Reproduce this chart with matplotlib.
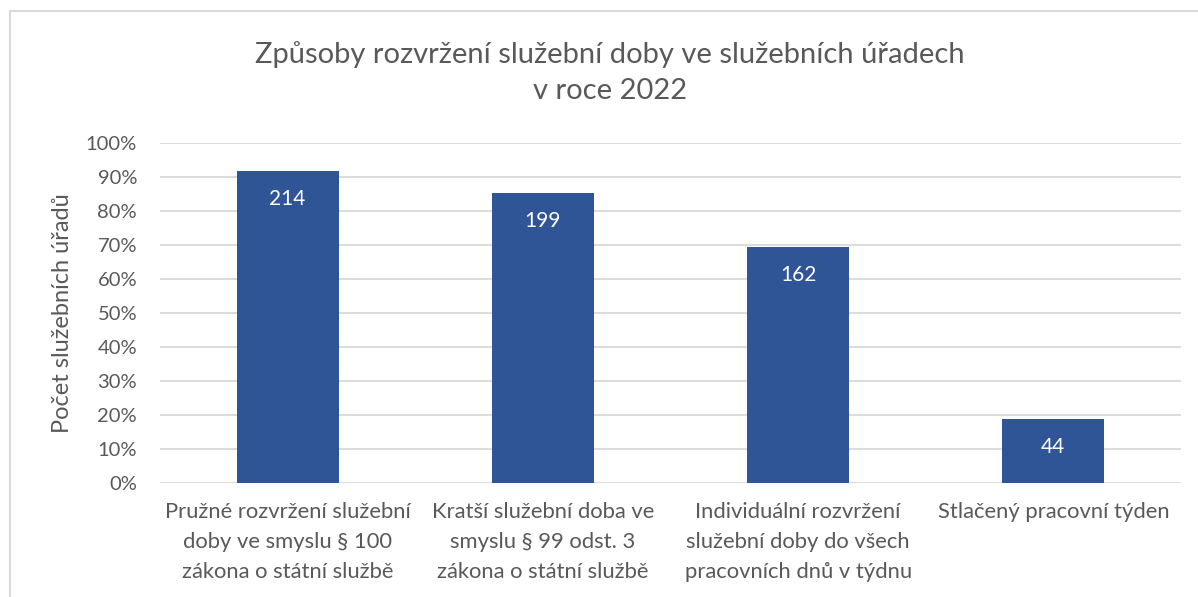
import matplotlib
matplotlib.use("Agg")
import matplotlib.pyplot as plt
from matplotlib.lines import Line2D
from matplotlib.ticker import PercentFormatter

categories = [
    "Pružné rozvržení služební\ndoby ve smyslu § 100\nzákona o státní službě",
    "Kratší služební doba ve\nsmyslu § 99 odst. 3\nzákona o státní službě",
    "Individuální rozvržení\nslužební doby do všech\npracovních dnů v týdnu",
    "Stlačený pracovní týden",
]
counts = [214, 199, 162, 44]
shares = [91.8, 85.4, 69.5, 18.9]  # percent of offices
yticks = list(range(0, 101, 10))

title = "Způsoby rozvržení služební doby ve služebních úřadech\nv roce 2022"
ylabel = "Počet služebních úřadů"

BAR = "#2F5597"
TXT = "#595959"
GRID = "#D9D9D9"
FONT = ["Lato", "DejaVu Sans"]
plt.rcParams["font.family"] = FONT

W, H = 1198, 597
fig = plt.figure(figsize=(W / 100, H / 100), dpi=100)
ax = fig.add_axes([160 / W, 1 - 483 / H, (1181 - 160) / W, (483 - 143) / H])

x = list(range(len(categories)))
bars = ax.bar(x, shares, width=0.4, color=BAR, zorder=3)
ax.set_xlim(-0.5, len(categories) - 0.5)
ax.set_ylim(0, 100)
ax.set_yticks(yticks)
ax.yaxis.set_major_formatter(PercentFormatter(decimals=0))
ax.grid(axis="y", color=GRID, linewidth=1.3, zorder=0)
for s in ax.spines.values():
    s.set_visible(False)
ax.tick_params(axis="both", length=0, colors=TXT, labelsize=14.5)
ax.tick_params(axis="y", pad=16.5)
ax.set_xticks(x)
ax.set_xticklabels(categories, linespacing=1.6, fontsize=15.8, color=TXT)
ax.tick_params(axis="x", pad=14)
for lab in ax.get_xticklabels():
    lab.set_verticalalignment("top")

for b, c in zip(bars, counts):
    ax.annotate(str(c), (b.get_x() + b.get_width() / 2, b.get_height()),
                xytext=(0, -28), textcoords="offset pixels",
                ha="center", va="center", color="white", fontsize=15)

ax.set_ylabel(ylabel, fontsize=17, color=TXT, labelpad=9)

fig.text(610 / W, 1 - 72.5 / H, title, ha="center", va="center",
         fontsize=21, color=TXT, linespacing=1.5)

# chart frame
fig.add_artist(Line2D([10 / W, 1], [1 - 11 / H, 1 - 11 / H], color=GRID, lw=1.5,
                      transform=fig.transFigure))
fig.add_artist(Line2D([10 / W, 10 / W], [0, 1 - 11 / H], color=GRID, lw=1.5,
                      transform=fig.transFigure))

fig.savefig("out.png", dpi=100, facecolor="white")
